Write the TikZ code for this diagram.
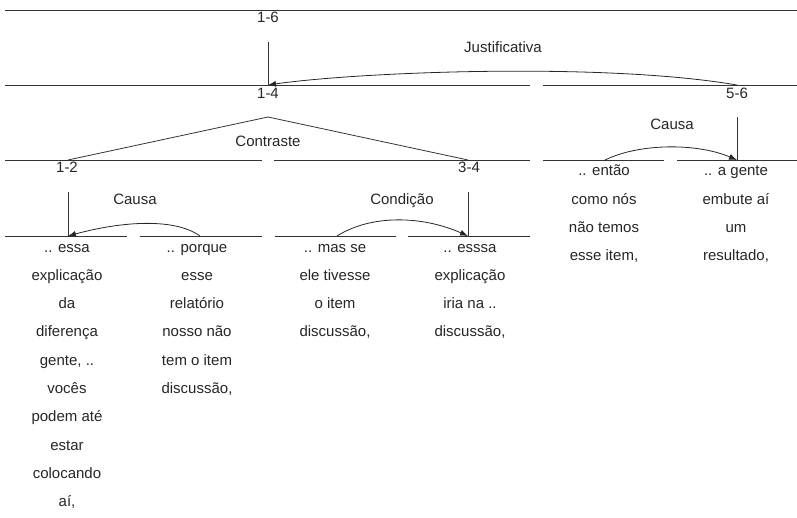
\documentclass[tikz,border=0pt]{standalone}
\usepackage{fontspec}
\setmainfont{Liberation Sans}
\usetikzlibrary{arrows.meta}

\begin{document}
\begin{tikzpicture}[x=1pt, y=-1pt, line width=0.8pt,
  bar/.style={draw=black!80},
  arrow/.style={-{Latex[length=8pt, width=6pt]}, draw=black!85},
  rel/.style={font=\fontsize{15}{18}\selectfont, anchor=base, inner sep=0pt, text=black!85},
  seg/.style={font=\fontsize{15}{28.3}\selectfont, align=center, anchor=base, inner sep=0pt, text=black!85}]
\useasboundingbox (0,0) rectangle (797,518);
% span points
\coordinate (top16) at (268,42);
\coordinate (p14) at (268,85);
\coordinate (p56) at (737,85);
\coordinate (top56) at (737,117);
\coordinate (apex) at (268,117);
\coordinate (p12) at (68,160);
\coordinate (p34) at (468,160);
\coordinate (s5) at (605,160);
\coordinate (e56) at (737,160);
\coordinate (top12) at (68,192);
\coordinate (top34) at (468,192);
\coordinate (e12) at (68,236);
\coordinate (e34) at (468,236);
\coordinate (s2) at (200,236);
\coordinate (s3) at (337,236);
% bars
\draw[bar] (5,10) -- (797,10);
\draw[bar] (5,85) -- (530,85);
\draw[bar] (543,85) -- (797,85);
\draw[bar] (5,160) -- (262,160);
\draw[bar] (274,160) -- (530,160);
\draw[bar] (543,160) -- (664,160);
\draw[bar] (677,160) -- (797,160);
\draw[bar] (5,236) -- (127,236);
\draw[bar] (140,236) -- (262,236);
\draw[bar] (275,236) -- (396,236);
\draw[bar] (408,236) -- (530,236);
% nuclei
\draw[bar] (top16) -- (p14);
\draw[bar] (top56) -- (e56);
\draw[bar] (top12) -- (e12);
\draw[bar] (top34) -- (e34);
\draw[bar] (p12) -- (apex) -- (p34);
% relations
\draw[arrow] (p56) .. controls +(-135,-23) and +(90,-13) .. (p14);
\draw[arrow] (s5) .. controls +(35,-17) and +(-40,-17) .. (e56);
\draw[arrow] (s2) .. controls +(-25,-18) and +(55,-15) .. (e12);
\draw[arrow] (s3) .. controls +(35,-22) and +(-45,-20) .. (e34);
% labels
\node[rel] (n16) at (268,23) {1-6};
\node[rel] (n14) at (268,99) {1-4};
\node[rel] (n56) at (737,99) {5-6};
\node[rel] (n12) at (67,173) {1-2};
\node[rel] (n34) at (469,173) {3-4};
\node[rel] (justif) at (503,53) {Justificativa};
\node[rel] (contr) at (268,147) {Contraste};
\node[rel] (causa56) at (672,130) {Causa};
\node[rel] (causa12) at (135,205) {Causa};
\node[rel] (cond) at (402,205) {Condição};
% segments (placed at the baseline of their last line)
\node[seg] (u1) at (67,506.7) {.. essa\\explicação\\da\\diferença\\gente, ..\\vocês\\podem até\\estar\\colocando\\aí,};
\node[seg] (u2) at (197,393.5) {.. porque\\esse\\relatório\\nosso não\\tem o item\\discussão,};
\node[seg] (u3) at (335,336.9) {.. mas se\\ele tivesse\\o item\\discussão,};
\node[seg] (u4) at (470,336.9) {.. esssa\\explicação\\iria na ..\\discussão,};
\node[seg] (u5) at (604,260.9) {.. então\\como nós\\não temos\\esse item,};
\node[seg] (u6) at (736,260.9) {.. a gente\\embute aí\\um\\resultado,};
\end{tikzpicture}
\end{document}
